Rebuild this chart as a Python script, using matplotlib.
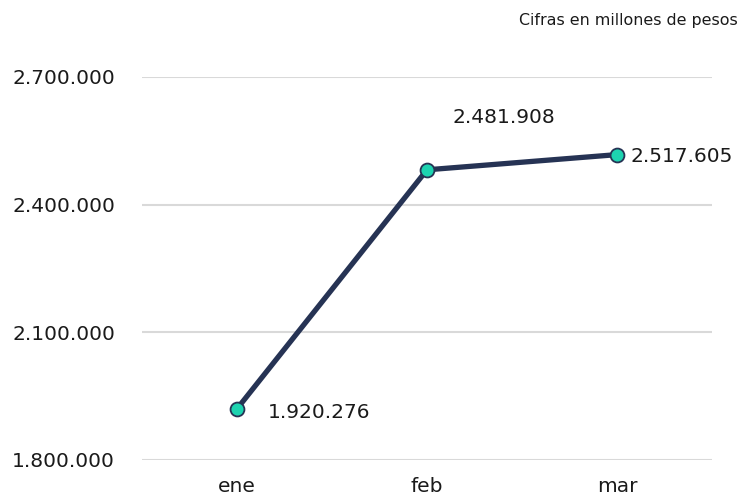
import matplotlib.pyplot as plt
from matplotlib.ticker import FuncFormatter

meses = ["ene", "feb", "mar"]
valores = [1920276, 2481908, 2517605]
y_ticks = [1800000, 2100000, 2400000, 2700000]

# posición de cada etiqueta de dato (desplazamiento en puntos)
offsets = [(22, -2.5), (55, 38), (10, -1.2)]
aligns = ["left", "center", "left"]


def miles(v, pos=None):
    return f"{int(v):,}".replace(",", ".")


fig = plt.figure(figsize=(7.42, 4.96), dpi=100)
ax = fig.add_axes([142 / 742, 1 - 460 / 496, 570 / 742, 383 / 496])

x = range(len(meses))
ax.plot(x, valores, color="#263354", linewidth=3.8, zorder=3,
        marker="o", markersize=10, markerfacecolor="#1dd3b0",
        markeredgecolor="#263354", markeredgewidth=1.3)

for i, v in enumerate(valores):
    ax.annotate(miles(v), (i, v), xytext=offsets[i], textcoords="offset points",
                ha=aligns[i], va="center", fontsize=14.5, color="#1a1a1a")

ax.set_xlim(-0.5, 2.5)
ax.set_ylim(1800000, 2700000)
ax.set_yticks(y_ticks)
ax.yaxis.set_major_formatter(FuncFormatter(miles))
ax.set_xticks(list(x))
ax.set_xticklabels(meses)
ax.tick_params(axis="y", length=0, pad=19.4, labelsize=14.5, labelcolor="#1a1a1a")
ax.tick_params(axis="x", length=0, pad=12.5, labelsize=14.5, labelcolor="#1a1a1a")
ax.grid(axis="y", color="#d9d9d9", linewidth=1.5)
ax.set_axisbelow(True)
for s in ax.spines.values():
    s.set_visible(False)

fig.text(738 / 742, 1 - 21 / 496, "Cifras en millones de pesos",
         ha="right", va="center", fontsize=11.4, color="#1a1a1a")

plt.savefig("out.png", dpi=100)
